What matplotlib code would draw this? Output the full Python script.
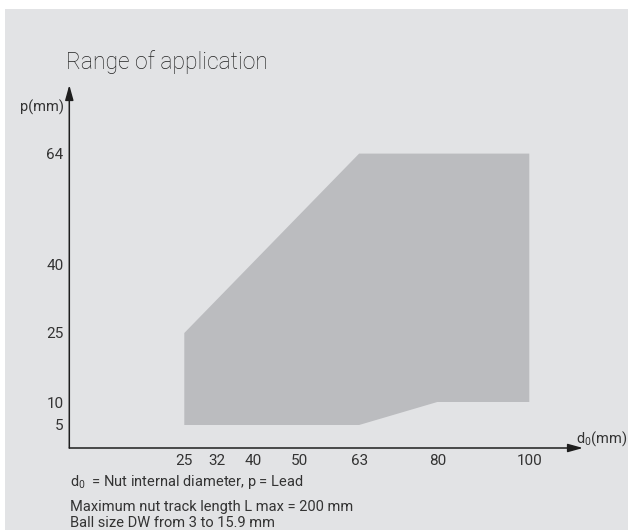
import matplotlib
matplotlib.use("Agg")
import matplotlib.pyplot as plt
from matplotlib.patches import Polygon, Rectangle

# chart data
d0_ticks = [25, 32, 40, 50, 63, 80, 100]
p_ticks = [5, 10, 25, 40, 64]
region_d0 = [25, 25, 63, 100, 100, 80, 63]
region_p = [5, 25, 64, 64, 10, 10, 5]

W, H = 628, 530
plt.rcParams["font.family"] = ["Roboto", "DejaVu Sans"]
plt.rcParams["mathtext.fontset"] = "custom"
plt.rcParams["mathtext.rm"] = "Roboto"
plt.rcParams["mathtext.it"] = "Roboto"

txt = "#333333"
bg = "#e2e3e5"
fill = "#bbbcbf"

fig = plt.figure(figsize=(W / 100, H / 100), dpi=100)
fig.patch.set_facecolor("white")
fig.patches.append(Rectangle((5 / W, 0), 1, 1 - 9 / H, transform=fig.transFigure,
                             facecolor=bg, edgecolor="none", zorder=-5))

def fx(px):
    return px / W

def fy(py):
    return 1 - py / H

x0, y0 = 69.3, 448
x1, y1 = 583, 85
ax = fig.add_axes([fx(x0), fy(y0), fx(x1) - fx(x0), fy(y1) - fy(y0)])
ax.set_facecolor("none")
ax.set_zorder(2)
scale = 4.6
ax.set_xlim(0, (x1 - x0) / scale)
ax.set_ylim(0, (y0 - y1) / scale)

ax.add_patch(Polygon(list(zip(region_d0, region_p)), closed=True,
                     facecolor=fill, edgecolor="none"))

for s in ax.spines.values():
    s.set_visible(False)
arrow = dict(arrowstyle="-|>,head_length=0.9,head_width=0.25", color="#1e1e1e",
             lw=1.1, shrinkA=0, shrinkB=0)
ax.annotate("", xy=(1, 0), xytext=(0, 0), xycoords="axes fraction", arrowprops=arrow)
ax.annotate("", xy=(0, 1), xytext=(0, 0), xycoords="axes fraction", arrowprops=arrow)

ax.set_xticks(d0_ticks)
ax.set_xticklabels([str(v) for v in d0_ticks])
ax.set_yticks(p_ticks)
ax.set_yticklabels([str(v) for v in p_ticks])
ax.tick_params(length=0, labelsize=11, colors=txt)
ax.tick_params(axis="x", pad=4)
ax.tick_params(axis="y", pad=4)

fig.text(fx(66), fy(62), "Range of application", fontsize=16.5, color="#222222",
         va="center", ha="left", fontweight="light")
fig.text(fx(64), fy(107), "p(mm)", fontsize=10.5, color=txt, va="center", ha="right")
fig.text(fx(576), fy(439), "d$_0$(mm)", fontsize=10.5, color=txt, va="center", ha="left")
fig.text(fx(70), fy(482), "d$_0$  = Nut internal diameter, p = Lead", fontsize=10.5,
         color=txt, va="center", ha="left")
fig.text(fx(70), fy(507), "Maximum nut track length L max = 200 mm", fontsize=10.5,
         color=txt, va="center", ha="left")
fig.text(fx(70), fy(523), "Ball size DW from 3 to 15.9 mm", fontsize=10.5,
         color=txt, va="center", ha="left")

fig.savefig("out.png", dpi=100, facecolor=fig.get_facecolor())
